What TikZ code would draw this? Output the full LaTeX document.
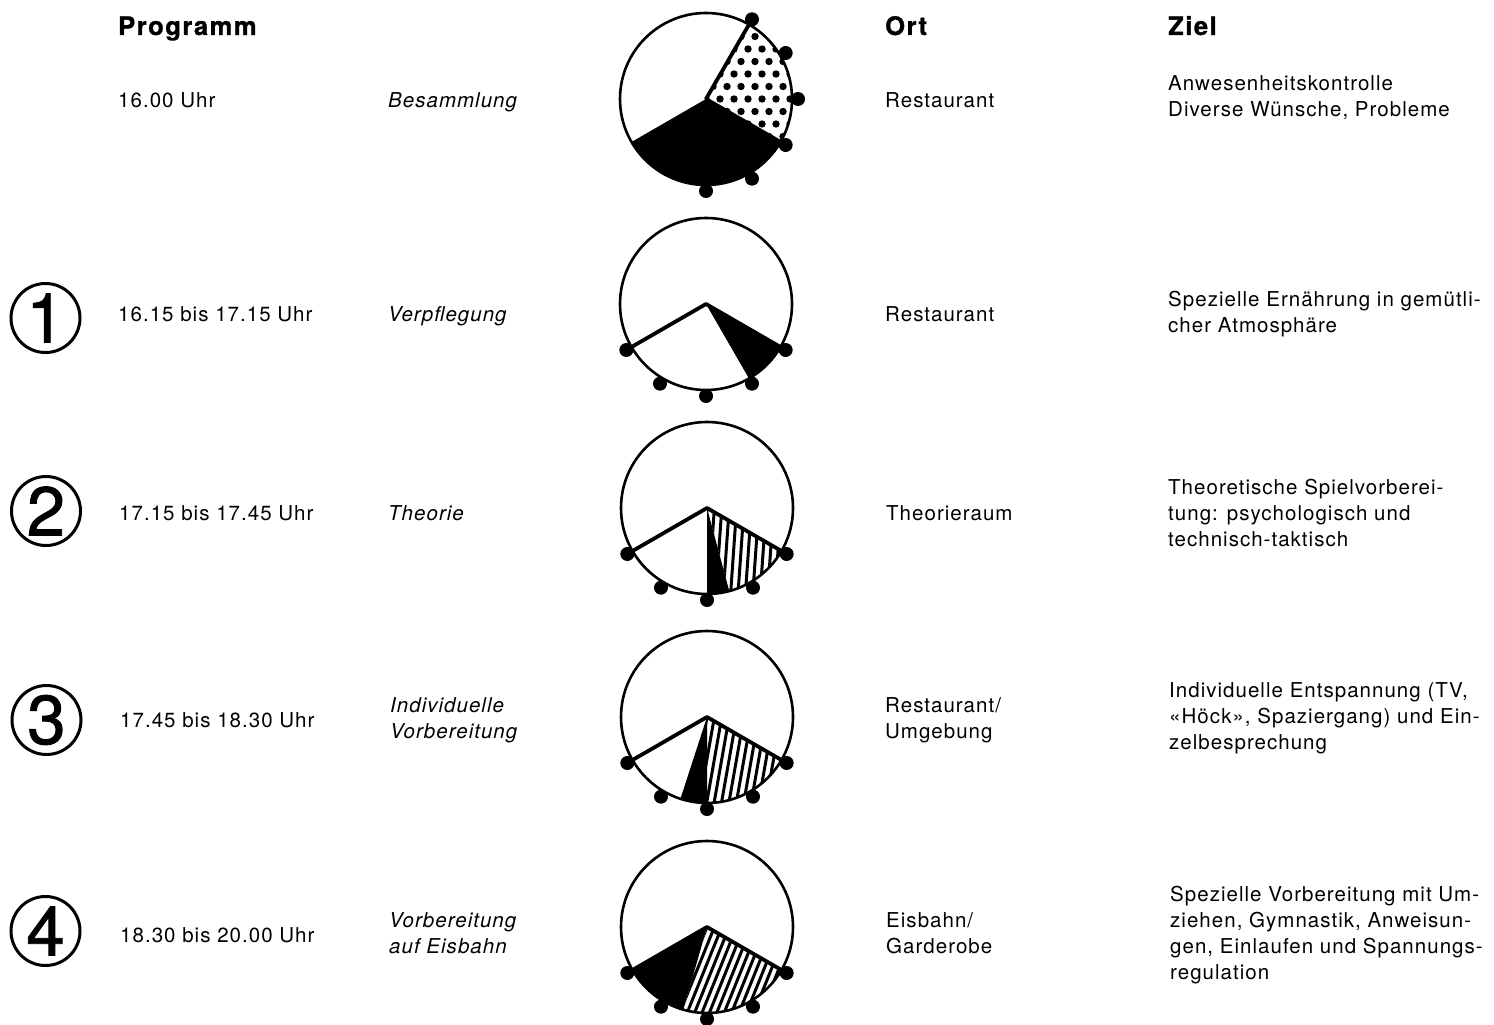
\documentclass[tikz,border=0pt]{standalone}
\usepackage{fontspec}
\setmainfont{TeX Gyre Heros}[LetterSpace=5]
\newfontfamily\headfont{TeX Gyre Heros}[LetterSpace=6, FakeBold=1.2]
\newfontfamily\numfont{TeX Gyre Heros}[FakeBold=1.2]
\usetikzlibrary{calc}

\tikzset{
  cell/.style={anchor=base west, inner sep=0pt, align=left,
    font=\fontsize{20.5}{26}\selectfont},
  itcell/.style={cell, font=\fontsize{20.5}{26}\selectfont\itshape},
  head/.style={anchor=base west, inner sep=0pt,
    font=\headfont\bfseries\fontsize{25.5}{28}\selectfont},
  stepnum/.style={draw, circle, line width=3pt, minimum size=69pt, inner sep=0pt,
    font=\numfont\fontsize{69}{69}\selectfont},
  face/.style={line width=2.6pt},
  hand/.style={line width=3.8pt, line cap=round, line join=round},
  stripe/.style={line width=3pt},
}

% quarter-hour marker on the rim of a clock face
\newcommand\rimdot[2]{\fill ($(#1)+(#2:92)$) circle[radius=7];}
% filled sector of a clock face between two angles
\newcommand\sectorpath[3]{(#1) -- ($(#1)+(#2:86)$) arc[start angle=#2, end angle=#3, radius=86] -- cycle}
% striped sector: centre, start angle, end angle, stripe angle
\newcommand\stripesector[4]{%
  \begin{scope}
    \clip \sectorpath{#1}{#2}{#3};
    \foreach \k in {-16,...,16}
      \draw[stripe] ($(#1)+(\k*7.4,0)+(#4:-110)$) -- ++(#4:220);
  \end{scope}}

\begin{document}
\begin{tikzpicture}[x=1pt, y=1pt]
\useasboundingbox (0,0) rectangle (1494,-1025);
\fill[white] (0,0) rectangle (1494,-1025);

% column heads
\node[head] (hprog) at (118,-35) {Programm};
\node[head] (hort)  at (885,-35) {Ort};
\node[head] (hziel) at (1168,-35) {Ziel};

% step numbers
\node[stepnum] (n1) at (45.5,-318) {1};
\node[stepnum] (n2) at (46,-511) {2};
\node[stepnum] (n3) at (46.5,-720) {3};
\node[stepnum] (n4) at (45.5,-931) {4};

% multi-line cells are placed by the baseline of their last line
% ---------- row 0
\node[cell]   (t0) at (118,-107) {16.00 Uhr};
\node[itcell] (a0) at (388,-107) {Besammlung};
\node[cell]   (o0) at (885,-107) {Restaurant};
\node[cell]   (z0) at (1168,-116) {Anwesenheitskontrolle\\Diverse Wünsche, Probleme};

% ---------- row 1
\node[cell]   (t1) at (118,-321) {16.15 bis 17.15 Uhr};
\node[itcell] (a1) at (388,-321) {Verpflegung};
\node[cell]   (o1) at (885,-321) {Restaurant};
\node[cell]   (z1) at (1168,-332) {Spezielle Ernährung in gemütli-\\cher Atmosphäre};

% ---------- row 2
\node[cell]   (t2) at (119,-520) {17.15 bis 17.45 Uhr};
\node[itcell] (a2) at (388,-520) {Theorie};
\node[cell]   (o2) at (886,-520) {Theorieraum};
\node[cell]   (z2) at (1168,-546) {Theoretische Spielvorberei-\\tung: psychologisch und\\technisch-taktisch};

% ---------- row 3
\node[cell]   (t3) at (120,-727) {17.45 bis 18.30 Uhr};
\node[itcell] (a3) at (390,-738) {Individuelle\\Vorbereitung};
\node[cell]   (o3) at (885,-738) {Restaurant/\\Umgebung};
\node[cell]   (z3) at (1169,-749) {Individuelle Entspannung (TV,\\«Höck», Spaziergang) und Ein-\\zelbesprechung};

% ---------- row 4
\node[cell]   (t4) at (120,-942) {18.30 bis 20.00 Uhr};
\node[itcell] (a4) at (389,-953) {Vorbereitung\\auf Eisbahn};
\node[cell]   (o4) at (886,-953) {Eisbahn/\\Garderobe};
\node[cell]   (z4) at (1170,-979) {Spezielle Vorbereitung mit Um-\\ziehen, Gymnastik, Anweisun-\\gen, Einlaufen und Spannungs-\\regulation};

% ---------- clock faces
\coordinate (c0) at (706,-99);
\coordinate (c1) at (706,-304);
\coordinate (c2) at (707,-508);
\coordinate (c3) at (707,-717);
\coordinate (c4) at (707,-927);

% clock 0: dotted and black sectors
\begin{scope}
  \clip \sectorpath{c0}{60}{-30};
  \foreach \i in {-1,...,8}
    \foreach \j in {-8,...,8}
      \fill ($(c0)+({\i*14+mod(abs(\j),2)*7},{\j*12.5})$) circle[radius=3.7];
\end{scope}
\fill \sectorpath{c0}{-30}{-150};
\draw[hand] ($(c0)+(60:86)$) -- (c0) -- ($(c0)+(-30:86)$);
\draw[face] (c0) circle[radius=86];
\foreach \a in {60,30,0,-30,-60,-90} {\rimdot{c0}{\a}}

% clock 1
\fill \sectorpath{c1}{-30}{-60};
\draw[hand] ($(c1)+(-150:86)$) -- (c1) -- ($(c1)+(-30:86)$);
\draw[face] (c1) circle[radius=86];
\foreach \a in {-30,-60,-90,-120,-150} {\rimdot{c1}{\a}}

% clock 2
\stripesector{c2}{-30}{-75}{86}
\fill \sectorpath{c2}{-75}{-90};
\draw[hand] ($(c2)+(-150:86)$) -- (c2) -- ($(c2)+(-30:86)$);
\draw[face] (c2) circle[radius=86];
\foreach \a in {-30,-60,-90,-120,-150} {\rimdot{c2}{\a}}

% clock 3
\stripesector{c3}{-30}{-90}{80}
\fill \sectorpath{c3}{-90}{-108};
\draw[hand] ($(c3)+(-150:86)$) -- (c3) -- ($(c3)+(-30:86)$);
\draw[face] (c3) circle[radius=86];
\foreach \a in {-30,-60,-90,-120,-150} {\rimdot{c3}{\a}}

% clock 4
\stripesector{c4}{-30}{-106}{68}
\fill \sectorpath{c4}{-106}{-150};
\draw[hand] ($(c4)+(-150:86)$) -- (c4) -- ($(c4)+(-30:86)$);
\draw[face] (c4) circle[radius=86];
\foreach \a in {-30,-60,-90,-120,-150} {\rimdot{c4}{\a}}

\end{tikzpicture}
\end{document}
